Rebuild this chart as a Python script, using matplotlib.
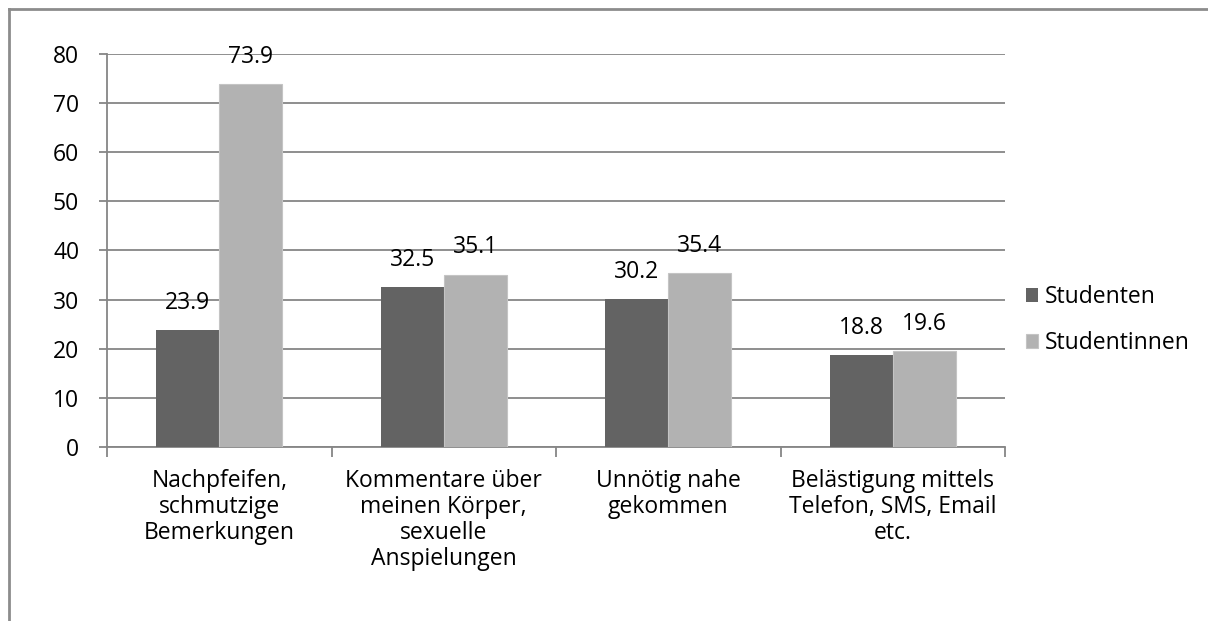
import matplotlib.pyplot as plt
import numpy as np
from matplotlib.lines import Line2D

# Daten
kategorien = ["Nachpfeifen,\nschmutzige\nBemerkungen",
              "Kommentare über\nmeinen Körper,\nsexuelle\nAnspielungen",
              "Unnötig nahe\ngekommen",
              "Belästigung mittels\nTelefon, SMS, Email\netc."]
studenten = [23.9, 32.5, 30.2, 18.8]
studentinnen = [73.9, 35.1, 35.4, 19.6]
serien = ["Studenten", "Studentinnen"]

plt.rcParams['font.family'] = ['Open Sans', 'DejaVu Sans']
grau = '#868686'
fs = 16.5

fig = plt.figure(figsize=(12.08, 6.21), dpi=100)
ax = fig.add_axes([107 / 1208, 1 - 447 / 621, (1005 - 107) / 1208, (447 - 54) / 621])

x = np.arange(len(kategorien))
breite = 0.28
b1 = ax.bar(x - breite / 2, studenten, breite, color='#636363', label=serien[0], zorder=3)
b2 = ax.bar(x + breite / 2, studentinnen, breite, color='#b2b2b2', edgecolor='#c4c4c4',
            linewidth=0.8, label=serien[1], zorder=3)

# Werte über den Balken
for balken, werte in [(b1, studenten), (b2, studentinnen)]:
    for r, v in zip(balken, werte):
        ax.annotate(f"{v:.1f}", (r.get_x() + r.get_width() / 2, v), xytext=(0, 19.5),
                    textcoords='offset points', ha='center', va='center', fontsize=fs,
                    color='black', zorder=4)

ax.set_xlim(-0.5, len(kategorien) - 0.5)
ax.set_ylim(0, 80)
ax.set_yticks(range(0, 81, 10))
ax.yaxis.grid(True, color=grau, linewidth=1.3, zorder=0)
ax.set_xticks(x)
ax.set_xticklabels(kategorien, fontsize=fs, linespacing=1.1)
ax.set_xticks(np.arange(-0.5, len(kategorien)), minor=True)
ax.tick_params(axis='x', which='major', length=0, pad=16)
ax.tick_params(axis='x', which='minor', length=7, width=1.3, color=grau)
ax.tick_params(axis='y', length=6, width=1.3, color=grau, labelsize=fs, pad=14)

for s in ['top', 'right']:
    ax.spines[s].set_visible(False)
for s in ['left', 'bottom']:
    ax.spines[s].set_color(grau)
    ax.spines[s].set_linewidth(1.3)

fig.legend(handles=[b1, b2], labels=serien, loc='center left',
           bbox_to_anchor=(1005 / 1208, 1 - 320 / 621), frameon=False, fontsize=fs,
           handlelength=0.55, handleheight=0.55, handletextpad=0.3, labelspacing=0.97)

# Rahmen um das Diagramm
fig.add_artist(Line2D([9 / 1208, 9 / 1208], [0, 1 - 9 / 621], color='#8c8c8c', linewidth=2))
fig.add_artist(Line2D([9 / 1208, 1], [1 - 9 / 621, 1 - 9 / 621], color='#8c8c8c', linewidth=2))

fig.savefig("out.png", dpi=100)
